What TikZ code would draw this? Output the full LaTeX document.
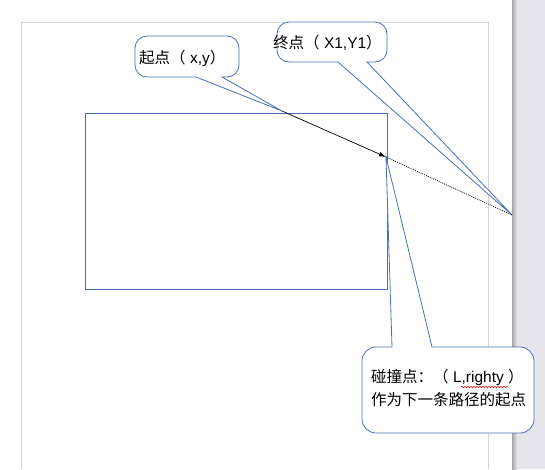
\documentclass[tikz,border=0pt]{standalone}
\usepackage{fontspec}
\setmainfont{Liberation Sans}
\newfontfamily\cjk{Noto Sans CJK SC}
\usetikzlibrary{arrows.meta,decorations.pathmorphing}
\definecolor{callblue}{RGB}{72,114,184}
\definecolor{pagegray}{RGB}{212,212,212}
\definecolor{deskgray}{RGB}{231,229,236}

\begin{document}
\begin{tikzpicture}[x=1pt,y=-1pt,
  callout/.style={draw=callblue,fill=white,line width=0.8pt},
  txt/.style={inner sep=0pt,anchor=west,font=\fontsize{15.5}{23}\selectfont}]
\useasboundingbox (0,0) rectangle (545,469);
\fill[white] (0,0) rectangle (545,469);
\fill[deskgray] (512,0) rectangle (545,469);
\shade[left color=black!35, right color=deskgray] (512,0) rectangle (517,469);
\draw[pagegray, line width=0.8pt] (21,469) -- (21,22) -- (488,22) -- (488,469);
\draw[callblue, line width=0.8pt] (85,113) rectangle (387,289);
\coordinate (start) at (282,111);
\coordinate (hit) at (386,157);
\coordinate (end) at (512,215);
\draw[callout] (start) [sharp corners] -- (222,77) [rounded corners=12pt] -- (239,77) -- (239,36) -- (135,36) -- (135,77) [sharp corners] -- (196,77) -- cycle;
\draw[callout] (end) [sharp corners] -- (367,62) [rounded corners=12pt] -- (387,62) -- (387,22) -- (277,22) -- (277,62) [sharp corners] -- (338,62) -- cycle;
\draw[callout] (hit) [sharp corners] -- (392,347) [rounded corners=14pt] -- (362,347) -- (362,433) -- (534,433) -- (534,347) [sharp corners] -- (432,347) -- cycle;
\draw[line width=0.7pt, -{Latex[length=7pt,width=4.5pt]}] (start) -- (hit);
\draw[line width=0.7pt, dash pattern=on 1pt off 1pt] (hit) -- (end);
\node[txt] (startlbl) at (139,58) {{\cjk 起点（}\ x,y{\cjk ）}};
\node[txt] (endlbl) at (273,43) {{\cjk 终点（}\ X1,Y1{\cjk ）}};
\node[txt, align=left] (hitlbl) at (371,388.5) {{\cjk 碰撞点：（}\ L,righty\ {\cjk ）}\\{\cjk 作为下一条路径的起点}};
\draw[red, line width=0.5pt, decorate, decoration={snake, amplitude=0.7pt, segment length=3pt}] (461,387) -- (508,387);
\end{tikzpicture}
\end{document}
